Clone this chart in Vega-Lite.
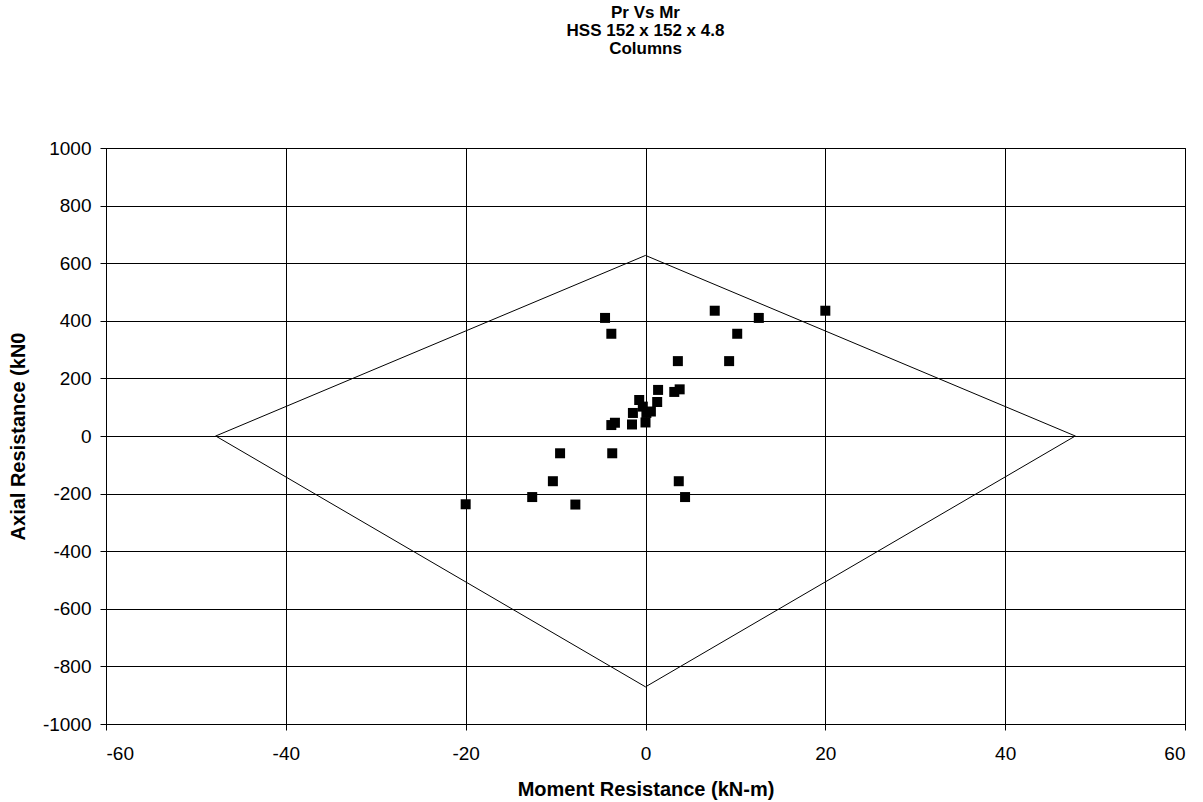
{
  "$schema": "https://vega.github.io/schema/vega-lite/v6.json",
  "width": 1079,
  "height": 576,
  "autosize": "none",
  "padding": {"left": 106, "top": 148, "right": 18, "bottom": 78},
  "background": "white",
  "title": {
    "text": ["Pr Vs Mr", "HSS 152 x 152 x 4.8", "Columns"],
    "font": "Liberation Sans",
    "fontSize": 17,
    "fontWeight": "bold",
    "lineHeight": 18,
    "anchor": "middle",
    "frame": "group",
    "offset": 81,
    "color": "black"
  },
  "config": {
    "view": {"stroke": "black", "strokeWidth": 1}
  },
  "datasets": {
    "pts": [
      {"m": -4.5, "p": 410},
      {"m": -3.8, "p": 355},
      {"m": 7.7, "p": 435},
      {"m": 20.0, "p": 435},
      {"m": 12.6, "p": 410},
      {"m": 10.2, "p": 355},
      {"m": 3.6, "p": 260},
      {"m": 9.3, "p": 260},
      {"m": 1.4, "p": 160},
      {"m": 3.8, "p": 162},
      {"m": 3.2, "p": 153},
      {"m": 1.3, "p": 118},
      {"m": -0.7, "p": 125},
      {"m": -0.3, "p": 102},
      {"m": -1.4, "p": 80},
      {"m": -1.5, "p": 40},
      {"m": 0.1, "p": 80},
      {"m": 0.0, "p": 47},
      {"m": 0.6, "p": 85},
      {"m": -3.4, "p": 46},
      {"m": -3.8, "p": 38},
      {"m": -9.5, "p": -60},
      {"m": -3.7, "p": -60},
      {"m": -10.3, "p": -157},
      {"m": 3.7, "p": -157},
      {"m": -12.6, "p": -212},
      {"m": 4.4, "p": -212},
      {"m": -7.8, "p": -238},
      {"m": -20.0, "p": -237}
    ],
    "env": [
      {"o": 1, "m": -47.8, "p": 0},
      {"o": 2, "m": 0, "p": 627},
      {"o": 3, "m": 47.8, "p": 0},
      {"o": 4, "m": 0, "p": -871},
      {"o": 5, "m": -47.8, "p": 0}
    ]
  },
  "layer": [
    {
      "data": {"name": "env"},
      "mark": {"type": "line", "color": "black", "strokeWidth": 1},
      "encoding": {
        "x": {
          "field": "m", "type": "quantitative",
          "scale": {"domain": [-60, 60], "nice": false, "zero": false},
          "axis": {
            "values": [-60, -40, -20, 0, 20, 40, 60],
            "labelExpr": "'' + datum.value",
            "title": "Moment Resistance (kN-m)",
            "labelFont": "Liberation Sans", "labelFontSize": 19, "labelColor": "black",
            "titleFont": "Liberation Sans", "titleFontSize": 20, "titleFontWeight": "bold", "titleColor": "black",
            "domainColor": "black", "tickColor": "black", "tickSize": 6,
            "gridColor": "black", "gridOpacity": 1, "gridWidth": 1,
            "labelPadding": 14, "titlePadding": 16
          }
        },
        "y": {
          "field": "p", "type": "quantitative",
          "scale": {"domain": [-1000, 1000], "nice": false, "zero": false},
          "axis": {
            "values": [-1000, -800, -600, -400, -200, 0, 200, 400, 600, 800, 1000],
            "labelExpr": "'' + datum.value",
            "title": "Axial Resistance (kN0",
            "labelFont": "Liberation Sans", "labelFontSize": 19, "labelColor": "black",
            "titleFont": "Liberation Sans", "titleFontSize": 20, "titleFontWeight": "bold", "titleColor": "black",
            "domainColor": "black", "tickColor": "black", "tickSize": 6,
            "gridColor": "black", "gridOpacity": 1, "gridWidth": 1,
            "labelPadding": 9, "titlePadding": 14
          }
        },
        "order": {"field": "o", "type": "quantitative"}
      }
    },
    {
      "data": {"name": "pts"},
      "mark": {"type": "point", "shape": "square", "filled": true, "color": "black", "size": 100, "opacity": 1},
      "encoding": {
        "x": {"field": "m", "type": "quantitative"},
        "y": {"field": "p", "type": "quantitative"}
      }
    }
  ]
}
